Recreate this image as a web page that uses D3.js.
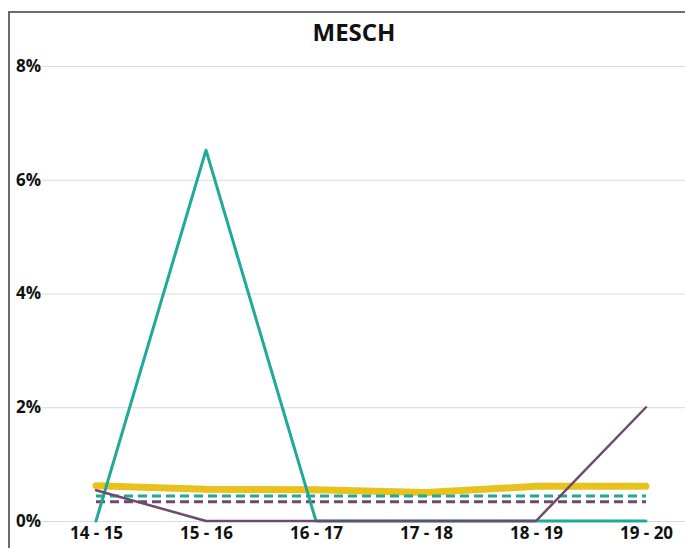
<!DOCTYPE html>
<html>
<head>
<meta charset="utf-8">
<script src="https://cdn.jsdelivr.net/npm/d3@7"></script>
<style>
  body { margin: 0; background: #fff; }
  svg { font-family: "Open Sans", sans-serif; }
</style>
</head>
<body>
<div id="vis-container"></div>
<script>
// school years on the x axis
const years = ["14 - 15", "15 - 16", "16 - 17", "17 - 18", "18 - 19", "19 - 20"];
const yTickValues = [0, 2, 4, 6, 8];

// series values in percent
const tealValues = [0, 6.52, 0, 0, 0, 0];
const purpleValues = [0.54, 0, 0, 0, 0, 2.0];
const yellowValues = [0.62, 0.56, 0.55, 0.5, 0.61, 0.61];
const tealAvg = [0.44, 0.44, 0.44, 0.44, 0.44, 0.44];
const purpleAvg = [0.34, 0.34, 0.34, 0.34, 0.34, 0.34];

const width = 685;
const height = 548;

const svg = d3.select('#vis-container').append('svg')
  .attr('width', width)
  .attr('height', height);

// frame
svg.append('rect')
  .attr('x', 9).attr('y', 12)
  .attr('width', 700).attr('height', 560)
  .attr('fill', 'none')
  .attr('stroke', '#6b6b6b')
  .attr('stroke-width', 2);

svg.append('text')
  .attr('x', 354).attr('y', 41)
  .attr('text-anchor', 'middle')
  .attr('font-size', 24)
  .attr('font-weight', 700)
  .attr('fill', '#111')
  .text('MESCH');

const xScale = d3.scalePoint().domain(years).range([96, 646]);
const yScale = d3.scaleLinear().domain([0, 8]).range([521, 66]);

// gridlines
const yAxis = d3.axisLeft(yScale)
  .tickValues(yTickValues)
  .tickSize(-(685 - 42))
  .tickFormat(d => d + '%');

const yAxisG = svg.append('g')
  .attr('transform', 'translate(42 0)')
  .call(yAxis);
yAxisG.select('.domain').remove();
yAxisG.selectAll('.tick line').attr('stroke', '#d9d9d9').attr('stroke-width', 1);
yAxisG.selectAll('.tick text')
  .attr('x', -1)
  .attr('font-size', 17)
  .attr('font-weight', 700)
  .attr('fill', '#111')
  .attr('font-family', '"Open Sans", sans-serif');

const xAxis = d3.axisBottom(xScale).tickSize(0);
const xAxisG = svg.append('g')
  .attr('transform', 'translate(0 526)')
  .call(xAxis);
xAxisG.select('.domain').remove();
xAxisG.selectAll('.tick text')
  .attr('dy', '0.6em')
  .attr('font-size', 17)
  .attr('font-weight', 700)
  .attr('fill', '#111')
  .attr('font-family', '"Open Sans", sans-serif');

const line = d3.line()
  .x((d, i) => xScale(years[i]))
  .y(d => yScale(d));

function drawLine(values, color, w, dash) {
  svg.append('path')
    .datum(values)
    .attr('fill', 'none')
    .attr('stroke', color)
    .attr('stroke-width', w)
    .attr('stroke-linejoin', 'round')
    .attr('stroke-linecap', dash ? 'butt' : 'round')
    .attr('stroke-dasharray', dash || null)
    .attr('d', line);
}

drawLine(yellowValues, '#e8c11c', 7, null);
drawLine(tealAvg, '#1fa99a', 3, '9,5');
drawLine(purpleAvg, '#6e4a6e', 3, '9,5');
drawLine(tealValues, '#1fa99a', 3, null);
drawLine(purpleValues, '#6e4a6e', 2.5, null);
</script>
</body>
</html>
